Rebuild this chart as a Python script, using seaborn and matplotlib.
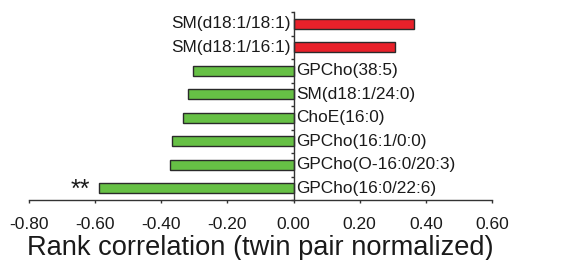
import matplotlib
matplotlib.use("Agg")
import matplotlib.pyplot as plt
import seaborn as sns
import pandas as pd

lipids = ["SM(d18:1/18:1)", "SM(d18:1/16:1)", "GPCho(38:5)", "SM(d18:1/24:0)",
          "ChoE(16:0)", "GPCho(16:1/0:0)", "GPCho(O-16:0/20:3)", "GPCho(16:0/22:6)"]
correlation = [0.364, 0.306, -0.305, -0.320, -0.334, -0.368, -0.373, -0.587]
significance = ["", "", "", "", "", "", "", "**"]
xticks = [-0.80, -0.60, -0.40, -0.20, 0.00, 0.20, 0.40, 0.60]

df = pd.DataFrame({"lipid": lipids, "r": correlation})
red, green = "#e8212a", "#66c045"
palette = {l: (red if v > 0 else green) for l, v in zip(lipids, correlation)}

sns.set_style("white")
plt.rcParams["font.family"] = ["Liberation Sans", "DejaVu Sans"]

fig = plt.figure(figsize=(5.72, 2.6), dpi=100)
ax = fig.add_axes([29/572, 1 - 200/260, (492-29)/572, (200-12)/260])

sns.barplot(data=df, x="r", y="lipid", hue="lipid", palette=palette, orient="h",
            width=0.44, saturation=1, edgecolor="#2a2a2a", linewidth=1.0,
            legend=False, ax=ax)

ax.set_xlim(-0.8, 0.6)
ax.set_ylim(len(lipids) - 0.5, -0.5)
ax.set_xticks(xticks)
ax.set_xticklabels([f"{t:.2f}" for t in xticks], fontsize=12.5)
ax.set_yticks([i - 0.5 for i in range(len(lipids) + 1)])
ax.set_yticklabels([])
ax.tick_params(axis="x", bottom=True, direction="out", length=2.4, width=1,
               color="#333333", pad=10, labelcolor="#1a1a1a")
ax.tick_params(axis="y", left=True, direction="out", length=2.4, width=1, color="#333333")

for s in ["top", "right"]:
    ax.spines[s].set_visible(False)
ax.spines["left"].set_position(("data", 0))
for s in ["left", "bottom"]:
    ax.spines[s].set_color("#333333")
    ax.spines[s].set_linewidth(1)

ax.set_ylabel("")
ax.set_xlabel("Rank correlation (twin pair normalized)", fontsize=19.6,
              labelpad=2, color="#1a1a1a")

for i, (lab, v, sig) in enumerate(zip(lipids, correlation, significance)):
    if v > 0:
        ax.annotate(lab, (0, i), xytext=(-2, 0), textcoords="offset points",
                    ha="right", va="center", fontsize=12.4, color="#1a1a1a")
    else:
        ax.annotate(lab, (0, i), xytext=(2, 0), textcoords="offset points",
                    ha="left", va="center", fontsize=12.4, color="#1a1a1a")
    if sig:
        ax.annotate(sig, (v, i), xytext=(-7, -1), textcoords="offset points",
                    ha="right", va="center", fontsize=18, color="#1a1a1a")

fig.savefig("out.png", dpi=100)
